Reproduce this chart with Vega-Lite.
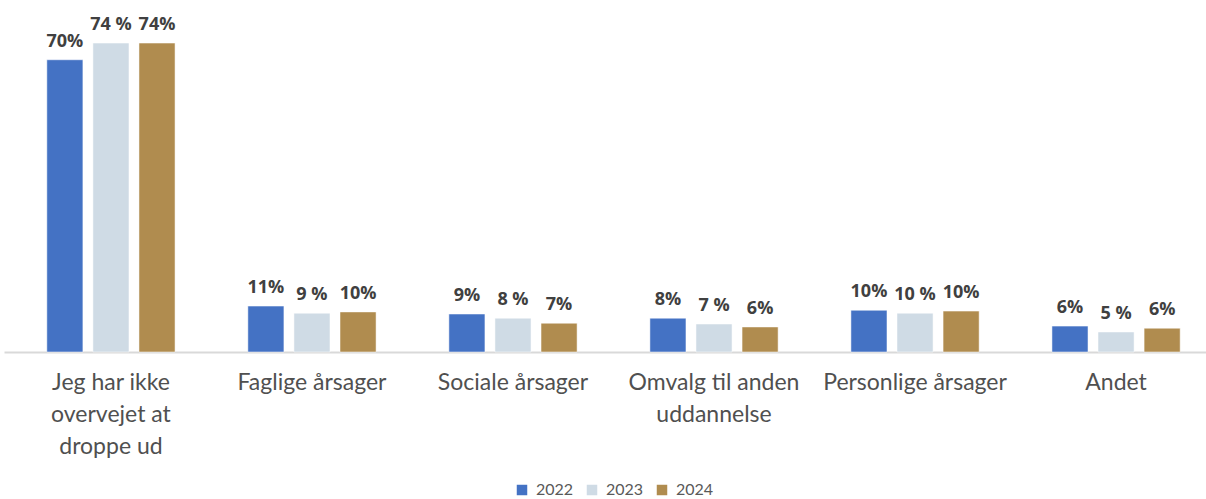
{
  "$schema": "https://vega.github.io/schema/vega-lite/v6.json",
  "width": 1219,
  "height": 334,
  "autosize": {"type": "none"},
  "padding": {"left": 4, "top": 18, "right": 0, "bottom": 147},
  "background": "white",
  "config": {"view": {"stroke": null}, "font": "Lato"},
  "data": {"values": [
    {"kategori": "Jeg har ikke overvejet at droppe ud", "år": "2022", "andel": 70, "label": "70%"},
    {"kategori": "Jeg har ikke overvejet at droppe ud", "år": "2023", "andel": 74, "label": "74 %"},
    {"kategori": "Jeg har ikke overvejet at droppe ud", "år": "2024", "andel": 74, "label": "74%"},
    {"kategori": "Faglige årsager", "år": "2022", "andel": 11, "label": "11%"},
    {"kategori": "Faglige årsager", "år": "2023", "andel": 9.3, "label": "9 %"},
    {"kategori": "Faglige årsager", "år": "2024", "andel": 9.6, "label": "10%"},
    {"kategori": "Sociale årsager", "år": "2022", "andel": 9.1, "label": "9%"},
    {"kategori": "Sociale årsager", "år": "2023", "andel": 8.1, "label": "8 %"},
    {"kategori": "Sociale årsager", "år": "2024", "andel": 6.9, "label": "7%"},
    {"kategori": "Omvalg til anden uddannelse", "år": "2022", "andel": 8.1, "label": "8%"},
    {"kategori": "Omvalg til anden uddannelse", "år": "2023", "andel": 6.7, "label": "7 %"},
    {"kategori": "Omvalg til anden uddannelse", "år": "2024", "andel": 6.0, "label": "6%"},
    {"kategori": "Personlige årsager", "år": "2022", "andel": 10.0, "label": "10%"},
    {"kategori": "Personlige årsager", "år": "2023", "andel": 9.3, "label": "10 %"},
    {"kategori": "Personlige årsager", "år": "2024", "andel": 9.8, "label": "10%"},
    {"kategori": "Andet", "år": "2022", "andel": 6.2, "label": "6%"},
    {"kategori": "Andet", "år": "2023", "andel": 4.8, "label": "5 %"},
    {"kategori": "Andet", "år": "2024", "andel": 5.7, "label": "6%"}
  ]},
  "encoding": {
    "x": {
      "field": "kategori", "type": "nominal", "sort": null,
      "scale": {"paddingInner": 0, "paddingOuter": 0.032},
      "axis": {
        "title": null, "labelAngle": 0, "ticks": false,
        "domainColor": "#D9D9D9", "domainWidth": 2,
        "labelFontSize": 23, "labelColor": "#505050", "labelFont": "Lato",
        "labelPadding": 19, "labelLineHeight": 32, "labelLimit": 220,
        "labelExpr": "datum.value == 'Jeg har ikke overvejet at droppe ud' ? ['Jeg har ikke', 'overvejet at', 'droppe ud'] : datum.value == 'Omvalg til anden uddannelse' ? ['Omvalg til anden', 'uddannelse'] : datum.value"
      }
    },
    "xOffset": {"field": "år", "type": "nominal", "scale": {"paddingInner": 0.217, "paddingOuter": 0.79}},
    "y": {"field": "andel", "type": "quantitative", "scale": {"domain": [0, 80]}, "axis": null}
  },
  "layer": [
    {
      "mark": {"type": "bar", "stroke": "white", "strokeOpacity": 0.5, "strokeWidth": 1},
      "encoding": {
        "color": {
          "field": "år", "type": "nominal",
          "scale": {"domain": ["2022", "2023", "2024"], "range": ["#4472C4", "#CFDBE5", "#B08C4F"]},
          "legend": {
            "title": null, "orient": "none", "direction": "horizontal",
            "legendX": 510, "legendY": 464,
            "symbolType": "square", "symbolSize": 110, "symbolStrokeWidth": 0,
            "labelFontSize": 16, "labelColor": "#595959", "labelFont": "Lato",
            "columnPadding": 10, "labelOffset": 6
          }
        }
      }
    },
    {
      "mark": {"type": "text", "dy": -18, "fontSize": 18, "fontWeight": "bold", "color": "#404040", "font": "Open Sans"},
      "encoding": {"text": {"field": "label"}}
    }
  ]
}
